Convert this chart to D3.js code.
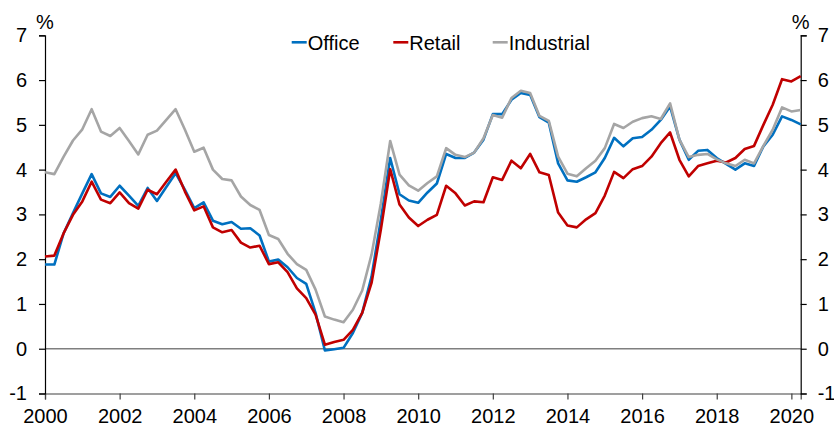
<!DOCTYPE html>
<html>
<head>
<meta charset="utf-8">
<script src="https://cdn.jsdelivr.net/npm/d3@7"></script>
<style>
  body { margin: 0; background: #fff; }
  svg text { font-family: "Liberation Sans", Arial, sans-serif; fill: #000; }
</style>
</head>
<body>
<svg id="chart" width="834" height="426"></svg>
<script>
// quarterly observations, 2000 Q1 .. 2020 Q2
var quarters = d3.range(82).map(function (i) { return 2000 + i / 4; });

var office = [
  1.88, 1.88, 2.58, 3.03, 3.47, 3.90, 3.47, 3.39, 3.64, 3.42,
  3.19, 3.59, 3.30, 3.61, 3.92, 3.55, 3.14, 3.27, 2.86, 2.78,
  2.83, 2.68, 2.69, 2.53, 1.95, 1.99, 1.82, 1.58, 1.45, 0.80,
  -0.04, -0.01, 0.02, 0.35, 0.80, 1.61, 2.88, 4.26, 3.45, 3.31,
  3.26, 3.49, 3.69, 4.35, 4.26, 4.26, 4.38, 4.67, 5.24, 5.24,
  5.56, 5.71, 5.67, 5.17, 5.05, 4.14, 3.76, 3.73, 3.83, 3.94,
  4.26, 4.71, 4.52, 4.70, 4.73, 4.89, 5.11, 5.41, 4.67, 4.22,
  4.42, 4.44, 4.26, 4.13, 4.00, 4.14, 4.08, 4.52, 4.78, 5.19,
  5.11, 5.01
];

var retail = [
  2.06, 2.08, 2.58, 2.99, 3.29, 3.73, 3.33, 3.25, 3.49, 3.25,
  3.13, 3.55, 3.45, 3.73, 4.00, 3.51, 3.09, 3.18, 2.71, 2.60,
  2.65, 2.37, 2.26, 2.30, 1.89, 1.93, 1.71, 1.35, 1.13, 0.76,
  0.09, 0.15, 0.20, 0.42, 0.80, 1.47, 2.66, 4.01, 3.22, 2.93,
  2.74, 2.88, 2.99, 3.64, 3.47, 3.20, 3.29, 3.27, 3.83, 3.77,
  4.20, 4.03, 4.35, 3.94, 3.88, 3.04, 2.75, 2.71, 2.89, 3.03,
  3.42, 3.95, 3.81, 4.01, 4.08, 4.29, 4.59, 4.83, 4.22, 3.85,
  4.08, 4.14, 4.20, 4.16, 4.26, 4.46, 4.53, 5.00, 5.45, 6.02,
  5.97, 6.09
];

var industrial = [
  3.94, 3.90, 4.29, 4.65, 4.90, 5.35, 4.85, 4.75, 4.93, 4.64,
  4.34, 4.78, 4.87, 5.11, 5.35, 4.89, 4.40, 4.49, 4.00, 3.79,
  3.76, 3.40, 3.21, 3.10, 2.54, 2.45, 2.12, 1.89, 1.76, 1.32,
  0.72, 0.65, 0.59, 0.87, 1.30, 2.10, 3.25, 4.64, 3.89, 3.65,
  3.53, 3.70, 3.85, 4.48, 4.33, 4.28, 4.38, 4.70, 5.22, 5.16,
  5.60, 5.76, 5.71, 5.20, 5.09, 4.29, 3.91, 3.85, 4.03, 4.20,
  4.48, 5.02, 4.93, 5.07, 5.15, 5.19, 5.13, 5.48, 4.67, 4.28,
  4.33, 4.35, 4.23, 4.14, 4.08, 4.22, 4.14, 4.53, 4.89, 5.39,
  5.30, 5.33
];

var seriesNames = ["Office", "Retail", "Industrial"];
var seriesColors = ["#0070C0", "#C00000", "#A5A5A5"];
var yearTicks = [2000, 2002, 2004, 2006, 2008, 2010, 2012, 2014, 2016, 2018, 2020];
var yTicks = [-1, 0, 1, 2, 3, 4, 5, 6, 7];

(function () {
  var svg = d3.select("#chart");
  var mLeft = 45, mRight = 800.7, mTop = 35.3, mBottom = 393.5;

  var x = d3.scaleLinear().domain([2000, 2020.25]).range([mLeft, mRight]);
  var y = d3.scaleLinear().domain([-1, 7]).range([mBottom, mTop]);
  var plain = function (d) { return String(d); };  // keep ascii hyphen for -1

  // zero line
  svg.append("line")
    .attr("x1", mLeft).attr("x2", mRight)
    .attr("y1", y(0)).attr("y2", y(0))
    .attr("stroke", "#7F7F7F").attr("stroke-width", 1.3);

  function styleAxis(g, color) {
    g.attr("font-family", null).attr("font-size", null);
    g.selectAll("path").attr("stroke", color).attr("stroke-width", 1.2);
    g.selectAll("line").attr("stroke", color).attr("stroke-width", 1.2);
    g.selectAll("text").style("font-size", "20px").attr("fill", "#000");
  }

  var gx = svg.append("g")
    .attr("transform", "translate(0," + mBottom + ")")
    .call(d3.axisBottom(x).tickValues(yearTicks).tickFormat(plain)
      .tickSizeOuter(0).tickSize(6).tickPadding(9));
  styleAxis(gx, "#404040");

  var gl = svg.append("g")
    .attr("transform", "translate(" + mLeft + ",0)")
    .call(d3.axisLeft(y).tickValues(yTicks).tickFormat(plain)
      .tickSizeOuter(0).tickSize(6).tickPadding(12));
  styleAxis(gl, "#000");

  var gr = svg.append("g")
    .attr("transform", "translate(" + mRight + ",0)")
    .call(d3.axisRight(y).tickValues(yTicks).tickFormat(plain)
      .tickSizeOuter(0).tickSize(6).tickPadding(11));
  styleAxis(gr, "#000");

  // unit labels
  [mLeft, mRight].forEach(function (px) {
    svg.append("text")
      .attr("x", px).attr("y", 29)
      .attr("text-anchor", "middle")
      .style("font-size", "20px")
      .text("%");
  });

  // lines
  var line = d3.line()
    .x(function (d, i) { return x(quarters[i]); })
    .y(function (d) { return y(d); });

  [office, retail, industrial].forEach(function (vals, k) {
    svg.append("path")
      .datum(vals)
      .attr("d", line)
      .attr("fill", "none")
      .attr("stroke", seriesColors[k])
      .attr("stroke-width", 2.6)
      .attr("stroke-linejoin", "round");
  });

  // legend
  var legendX = [291.7, 393.3, 492.7];
  var legend = svg.append("g");
  seriesNames.forEach(function (name, k) {
    legend.append("line")
      .attr("x1", legendX[k]).attr("x2", legendX[k] + 15)
      .attr("y1", 42.3).attr("y2", 42.3)
      .attr("stroke", seriesColors[k]).attr("stroke-width", 2.6);
    legend.append("text")
      .attr("x", legendX[k] + 16).attr("y", 50)
      .style("font-size", "20px")
      .text(name);
  });
})();
</script>
</body>
</html>
